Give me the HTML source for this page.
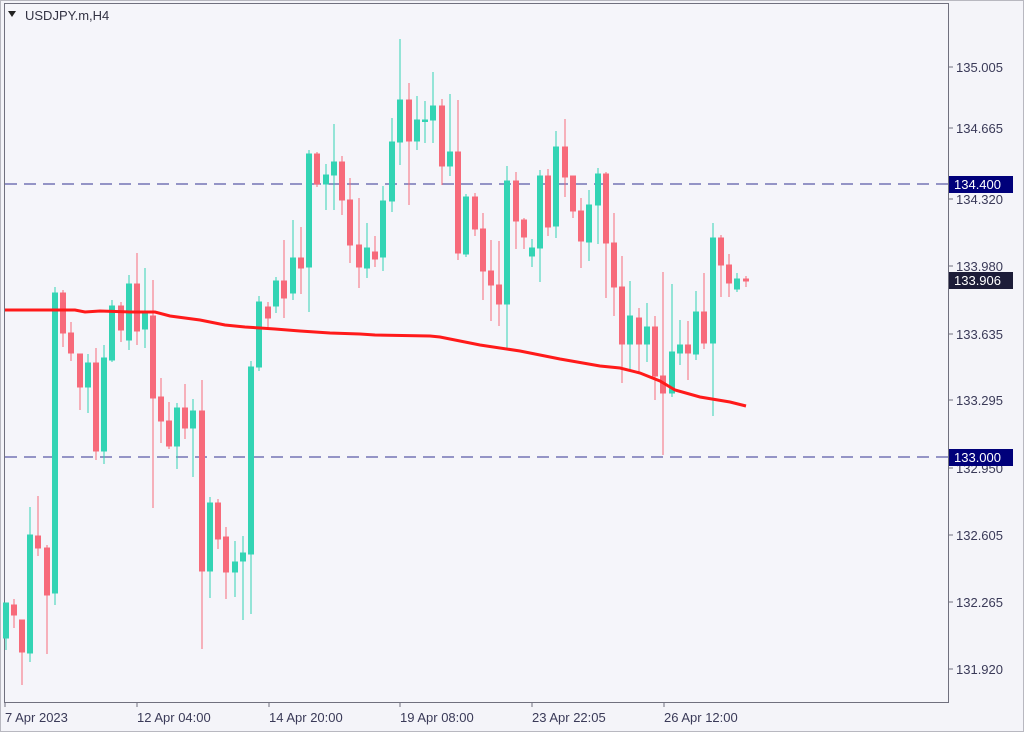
<!DOCTYPE html>
<html><head><style>
html,body{margin:0;padding:0;background:#f2f2f7;}
svg{display:block;font-family:"Liberation Sans",sans-serif;}
</style></head><body>
<svg width="1024" height="732" viewBox="0 0 1024 732" xmlns="http://www.w3.org/2000/svg">
<rect x="0" y="0" width="1024" height="732" fill="#f4f4f9"/>
<rect x="0.5" y="0.5" width="1023" height="731" fill="none" stroke="#b8b8c0"/>
<rect x="4.5" y="3.5" width="944" height="699" fill="#f5f5fa" stroke="#70707e"/>
<g fill="#3a3a58" font-size="13">
<path d="M8 11 L16 11 L12 17Z" fill="#222"/>
<text x="25" y="20" font-size="13" fill="#333344">USDJPY.m,H4</text>
</g>
<g stroke="#5a5aa8" stroke-width="1.3" stroke-dasharray="12,7">
<line x1="5" y1="184" x2="948" y2="184"/>
<line x1="5" y1="457" x2="948" y2="457"/>
</g>
<g id="c">
<g stroke="#33d4b4" fill="#33d4b4">
<line x1="6" y1="603" x2="6" y2="650"/><rect x="3.5" y="603" width="5" height="35"/>
<line x1="30" y1="507" x2="30" y2="662"/><rect x="27.5" y="535" width="5" height="118"/>
<line x1="55" y1="287" x2="55" y2="605"/><rect x="52.5" y="293" width="5" height="300"/>
<line x1="88" y1="354" x2="88" y2="413"/><rect x="85.5" y="363" width="5" height="24"/>
<line x1="104" y1="345" x2="104" y2="464"/><rect x="101.5" y="358" width="5" height="93"/>
<line x1="112" y1="300" x2="112" y2="362"/><rect x="109.5" y="306" width="5" height="54"/>
<line x1="129" y1="275" x2="129" y2="350"/><rect x="126.5" y="284" width="5" height="56"/>
<line x1="145" y1="268" x2="145" y2="348"/><rect x="142.5" y="313" width="5" height="16"/>
<line x1="177" y1="403" x2="177" y2="469"/><rect x="174.5" y="408" width="5" height="38"/>
<line x1="193" y1="399" x2="193" y2="477"/><rect x="190.5" y="411" width="5" height="17"/>
<line x1="210" y1="497" x2="210" y2="598"/><rect x="207.5" y="503" width="5" height="68"/>
<line x1="235" y1="541" x2="235" y2="597"/><rect x="232.5" y="562" width="5" height="10"/>
<line x1="243" y1="536" x2="243" y2="620"/><rect x="240.5" y="553" width="5" height="8"/>
<line x1="251" y1="361" x2="251" y2="614"/><rect x="248.5" y="367" width="5" height="187"/>
<line x1="259" y1="296" x2="259" y2="371"/><rect x="256.5" y="302" width="5" height="65"/>
<line x1="276" y1="277" x2="276" y2="313"/><rect x="273.5" y="281" width="5" height="25"/>
<line x1="293" y1="220" x2="293" y2="300"/><rect x="290.5" y="258" width="5" height="35"/>
<line x1="309" y1="150" x2="309" y2="312"/><rect x="306.5" y="154" width="5" height="113"/>
<line x1="326" y1="164" x2="326" y2="210"/><rect x="323.5" y="175" width="5" height="9"/>
<line x1="334" y1="124" x2="334" y2="210"/><rect x="331.5" y="162" width="5" height="13"/>
<line x1="367" y1="223" x2="367" y2="278"/><rect x="364.5" y="248" width="5" height="20"/>
<line x1="383" y1="186" x2="383" y2="271"/><rect x="380.5" y="201" width="5" height="56"/>
<line x1="392" y1="118" x2="392" y2="212"/><rect x="389.5" y="142" width="5" height="59"/>
<line x1="400" y1="39" x2="400" y2="165"/><rect x="397.5" y="100" width="5" height="42"/>
<line x1="417" y1="96" x2="417" y2="150"/><rect x="414.5" y="120" width="5" height="21"/>
<line x1="425" y1="101" x2="425" y2="143"/><rect x="422.5" y="120" width="5" height="1.5"/>
<line x1="433" y1="72" x2="433" y2="143"/><rect x="430.5" y="106" width="5" height="14"/>
<line x1="450" y1="94" x2="450" y2="176"/><rect x="447.5" y="152" width="5" height="14"/>
<line x1="466" y1="194" x2="466" y2="257"/><rect x="463.5" y="197" width="5" height="57"/>
<line x1="507" y1="166" x2="507" y2="350"/><rect x="504.5" y="181" width="5" height="123"/>
<line x1="532" y1="239" x2="532" y2="267"/><rect x="529.5" y="248" width="5" height="8"/>
<line x1="540" y1="170" x2="540" y2="282"/><rect x="537.5" y="176" width="5" height="72"/>
<line x1="556" y1="131" x2="556" y2="238"/><rect x="553.5" y="147" width="5" height="79"/>
<line x1="589" y1="190" x2="589" y2="261"/><rect x="586.5" y="205" width="5" height="37"/>
<line x1="598" y1="168" x2="598" y2="244"/><rect x="595.5" y="174" width="5" height="31"/>
<line x1="630" y1="281" x2="630" y2="371"/><rect x="627.5" y="316" width="5" height="28"/>
<line x1="647" y1="303" x2="647" y2="362"/><rect x="644.5" y="327" width="5" height="17"/>
<line x1="672" y1="284" x2="672" y2="397"/><rect x="669.5" y="352" width="5" height="41"/>
<line x1="680" y1="320" x2="680" y2="365"/><rect x="677.5" y="345" width="5" height="8"/>
<line x1="696" y1="291" x2="696" y2="360"/><rect x="693.5" y="312" width="5" height="42"/>
<line x1="713" y1="223" x2="713" y2="416"/><rect x="710.5" y="238" width="5" height="105"/>
<line x1="737" y1="273" x2="737" y2="292"/><rect x="734.5" y="279" width="5" height="10"/>
</g>
<g stroke="#f76a7a" fill="#f76a7a">
<line x1="14" y1="599" x2="14" y2="628"/><rect x="11.5" y="605" width="5" height="10"/>
<line x1="22" y1="620" x2="22" y2="685"/><rect x="19.5" y="620" width="5" height="32"/>
<line x1="38" y1="496" x2="38" y2="556"/><rect x="35.5" y="536" width="5" height="12"/>
<line x1="47" y1="545" x2="47" y2="654"/><rect x="44.5" y="548" width="5" height="47"/>
<line x1="63" y1="290" x2="63" y2="347"/><rect x="60.5" y="293" width="5" height="40"/>
<line x1="71" y1="322" x2="71" y2="361"/><rect x="68.5" y="333" width="5" height="20"/>
<line x1="80" y1="354" x2="80" y2="410"/><rect x="77.5" y="354" width="5" height="33"/>
<line x1="96" y1="348" x2="96" y2="460"/><rect x="93.5" y="363" width="5" height="88"/>
<line x1="121" y1="302" x2="121" y2="342"/><rect x="118.5" y="306" width="5" height="24"/>
<line x1="137" y1="253" x2="137" y2="345"/><rect x="134.5" y="284" width="5" height="47"/>
<line x1="153" y1="280" x2="153" y2="508"/><rect x="150.5" y="316" width="5" height="82"/>
<line x1="161" y1="378" x2="161" y2="443"/><rect x="158.5" y="397" width="5" height="24"/>
<line x1="169" y1="402" x2="169" y2="449"/><rect x="166.5" y="421" width="5" height="25"/>
<line x1="185" y1="384" x2="185" y2="439"/><rect x="182.5" y="408" width="5" height="20"/>
<line x1="202" y1="380" x2="202" y2="649"/><rect x="199.5" y="411" width="5" height="160"/>
<line x1="218" y1="499" x2="218" y2="549"/><rect x="215.5" y="503" width="5" height="36"/>
<line x1="226" y1="527" x2="226" y2="599"/><rect x="223.5" y="537" width="5" height="35"/>
<line x1="268" y1="302" x2="268" y2="327"/><rect x="265.5" y="307" width="5" height="11"/>
<line x1="284" y1="240" x2="284" y2="318"/><rect x="281.5" y="281" width="5" height="17"/>
<line x1="301" y1="227" x2="301" y2="294"/><rect x="298.5" y="258" width="5" height="10"/>
<line x1="317" y1="152" x2="317" y2="187"/><rect x="314.5" y="154" width="5" height="30"/>
<line x1="342" y1="156" x2="342" y2="215"/><rect x="339.5" y="162" width="5" height="38"/>
<line x1="350" y1="178" x2="350" y2="263"/><rect x="347.5" y="200" width="5" height="45"/>
<line x1="359" y1="198" x2="359" y2="288"/><rect x="356.5" y="245" width="5" height="22"/>
<line x1="375" y1="236" x2="375" y2="267"/><rect x="372.5" y="252" width="5" height="7"/>
<line x1="409" y1="83" x2="409" y2="205"/><rect x="406.5" y="100" width="5" height="41"/>
<line x1="442" y1="99" x2="442" y2="185"/><rect x="439.5" y="106" width="5" height="60"/>
<line x1="458" y1="100" x2="458" y2="260"/><rect x="455.5" y="152" width="5" height="101"/>
<line x1="475" y1="193" x2="475" y2="236"/><rect x="472.5" y="197" width="5" height="32"/>
<line x1="483" y1="213" x2="483" y2="300"/><rect x="480.5" y="229" width="5" height="42"/>
<line x1="491" y1="240" x2="491" y2="321"/><rect x="488.5" y="271" width="5" height="14"/>
<line x1="499" y1="241" x2="499" y2="326"/><rect x="496.5" y="285" width="5" height="19"/>
<line x1="516" y1="172" x2="516" y2="249"/><rect x="513.5" y="181" width="5" height="40"/>
<line x1="524" y1="218" x2="524" y2="249"/><rect x="521.5" y="220" width="5" height="17"/>
<line x1="548" y1="169" x2="548" y2="236"/><rect x="545.5" y="176" width="5" height="51"/>
<line x1="565" y1="119" x2="565" y2="197"/><rect x="562.5" y="147" width="5" height="30"/>
<line x1="573" y1="176" x2="573" y2="218"/><rect x="570.5" y="176" width="5" height="35"/>
<line x1="581" y1="198" x2="581" y2="268"/><rect x="578.5" y="211" width="5" height="30"/>
<line x1="606" y1="172" x2="606" y2="298"/><rect x="603.5" y="174" width="5" height="69"/>
<line x1="614" y1="213" x2="614" y2="316"/><rect x="611.5" y="243" width="5" height="44"/>
<line x1="622" y1="256" x2="622" y2="383"/><rect x="619.5" y="287" width="5" height="57"/>
<line x1="639" y1="308" x2="639" y2="372"/><rect x="636.5" y="318" width="5" height="26"/>
<line x1="655" y1="316" x2="655" y2="400"/><rect x="652.5" y="327" width="5" height="49"/>
<line x1="663" y1="272" x2="663" y2="455"/><rect x="660.5" y="376" width="5" height="17"/>
<line x1="688" y1="321" x2="688" y2="380"/><rect x="685.5" y="345" width="5" height="8"/>
<line x1="704" y1="273" x2="704" y2="349"/><rect x="701.5" y="312" width="5" height="31"/>
<line x1="721" y1="235" x2="721" y2="297"/><rect x="718.5" y="238" width="5" height="27"/>
<line x1="729" y1="254" x2="729" y2="297"/><rect x="726.5" y="265" width="5" height="18"/>
<line x1="746" y1="276" x2="746" y2="287"/><rect x="743.5" y="279" width="5" height="2"/>
</g>
</g>
<polyline fill="none" stroke="#ff1a1a" stroke-width="3" points="5,310 55,310 75,310 85,312 100,311 130,312 155,312 170,316 200,320 225,325 245,327 260,328 275,329 300,331 330,333 360,334 375,335 430,336 440,337 480,345 520,351 560,359 600,366 620,368 640,373 660,381 675,390 700,397 730,402 746,406"/>
<g stroke="#70707e">
<line x1="949" y1="67" x2="953" y2="67"/><line x1="949" y1="128" x2="953" y2="128"/><line x1="949" y1="199" x2="953" y2="199"/><line x1="949" y1="266" x2="953" y2="266"/><line x1="949" y1="334" x2="953" y2="334"/><line x1="949" y1="400" x2="953" y2="400"/><line x1="949" y1="468" x2="953" y2="468"/><line x1="949" y1="535" x2="953" y2="535"/><line x1="949" y1="602" x2="953" y2="602"/><line x1="949" y1="669" x2="953" y2="669"/>
<line x1="5" y1="703" x2="5" y2="707"/><line x1="137" y1="703" x2="137" y2="707"/><line x1="269" y1="703" x2="269" y2="707"/><line x1="400" y1="703" x2="400" y2="707"/><line x1="532" y1="703" x2="532" y2="707"/><line x1="664" y1="703" x2="664" y2="707"/>
</g>
<g fill="#3a3a58" font-size="13">
<text x="956" y="72">135.005</text>
<text x="956" y="133">134.665</text>
<text x="956" y="204">134.320</text>
<text x="956" y="271">133.980</text>
<text x="956" y="339">133.635</text>
<text x="956" y="405">133.295</text>
<text x="956" y="473">132.950</text>
<text x="956" y="540">132.605</text>
<text x="956" y="607">132.265</text>
<text x="956" y="674">131.920</text>
<text x="5" y="722">7 Apr 2023</text>
<text x="137" y="722">12 Apr 04:00</text>
<text x="269" y="722">14 Apr 20:00</text>
<text x="400" y="722">19 Apr 08:00</text>
<text x="532" y="722">23 Apr 22:05</text>
<text x="664" y="722">26 Apr 12:00</text>
</g>
<rect x="949" y="176" width="64" height="17" fill="#00007a"/>
<text x="954" y="189" fill="#fff" font-size="13">134.400</text>
<rect x="949" y="272" width="64" height="17" fill="#1c1c38"/>
<text x="954" y="285" fill="#fff" font-size="13">133.906</text>
<rect x="949" y="449" width="64" height="17" fill="#00007a"/>
<text x="954" y="462" fill="#fff" font-size="13">133.000</text>
</svg>
</body></html>
